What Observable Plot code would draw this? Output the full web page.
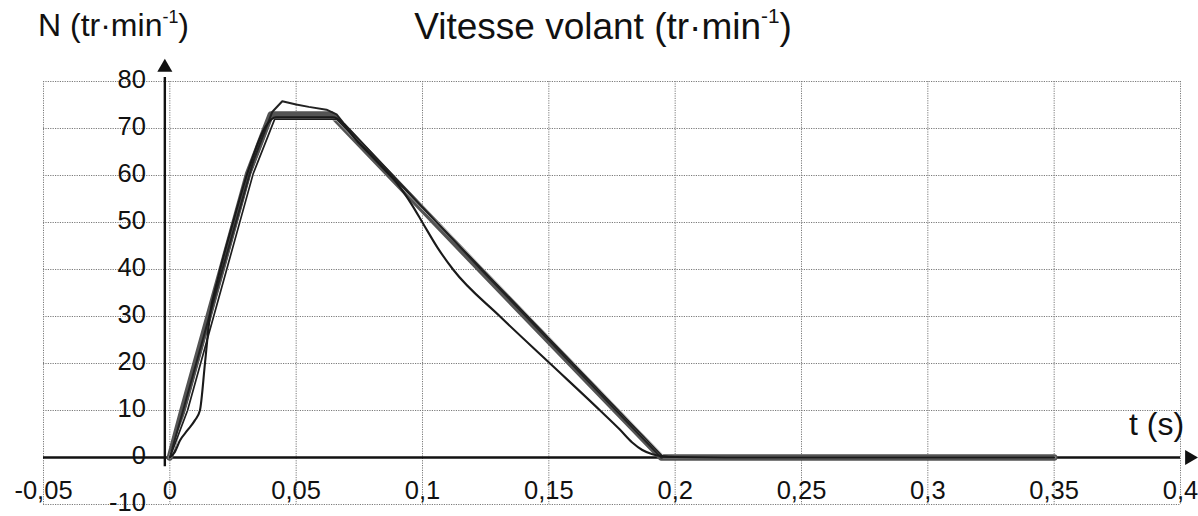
<!DOCTYPE html>
<html>
<head>
<meta charset="utf-8">
<script src="https://cdn.jsdelivr.net/npm/d3@7"></script>
<script src="https://cdn.jsdelivr.net/npm/@observablehq/plot@0.6"></script>
<style>
  html, body { margin: 0; padding: 0; background: #fff; }
  #wrap { position: relative; width: 1198px; height: 516px; font-family: "Liberation Sans", Arial, sans-serif; color: #111; }
  .lbl { position: absolute; white-space: nowrap; line-height: 1; }
  .lbl sup { font-size: 0.56em; vertical-align: 0.75em; line-height: 0; }
</style>
</head>
<body>
<div id="wrap">
  <div class="lbl" style="left:38px; top:9px; font-size:32px;">N (tr·min<sup>-1</sup>)</div>
  <div class="lbl" style="left:603px; top:8px; font-size:37px; transform:translateX(-50%);">Vitesse volant (tr·min<sup>-1</sup>)</div>
  <div class="lbl" style="left:1129px; top:408px; font-size:32px;">t (s)</div>
</div>
<script>
// Tick values
const xTicks = [-0.05, 0, 0.05, 0.1, 0.15, 0.2, 0.25, 0.3, 0.35, 0.4];
const yTicks = [-10, 0, 10, 20, 30, 40, 50, 60, 70, 80];

// Series: consigne (thick trapezoid)
const tConsigne = [0, 0.005, 0.0205, 0.031, 0.040, 0.064, 0.1228, 0.1945, 0.35];
const nConsigne = [0, 10, 40, 60.4, 73.0, 73.0, 40, 0, 0];

// Series: thin parallel trapezoid
const tParallel = [0, 0.007, 0.0225, 0.033, 0.0415, 0.066, 0.1238, 0.1955, 0.35];
const nParallel = [0, 10, 40, 60.4, 72.0, 72.0, 40, 0, 0];

// Series: with overshoot
const tOvershoot = [0, 0.005, 0.02, 0.033, 0.0405, 0.0445, 0.050, 0.055, 0.062, 0.066, 0.069, 0.09, 0.1232, 0.1945, 0.35];
const nOvershoot = [0, 9.5, 38.5, 63, 73.5, 75.8, 75.1, 74.6, 74.0, 73.0, 71.0, 59.0, 40, 0, 0];

// Series: measured (smooth)
const tMesure = [0, 0.002, 0.004, 0.007, 0.0099, 0.0119, 0.0139, 0.0158, 0.019, 0.025, 0.031, 0.038, 0.042, 0.0645, 0.075, 0.085, 0.09, 0.096, 0.1002, 0.106, 0.1121, 0.1307, 0.1505, 0.1703, 0.178, 0.183, 0.187, 0.191, 0.195, 0.2, 0.22, 0.35];
const nMesure = [0, 1.2, 3.6, 5.8, 7.9, 10, 20, 30, 38, 50, 61, 70.5, 72.4, 72.4, 66.8, 61.2, 58.3, 53.6, 49.8, 44.6, 40, 30, 20, 10, 6, 3.2, 1.6, 0.7, 0.3, 0.1, 0, 0];

const toRows = (name, ts, ns) => ts.map((t, i) => ({serie: name, t, n: ns[i]}));
const consigne = toRows("consigne", tConsigne, nConsigne);
const parallel = toRows("parallele", tParallel, nParallel);
const overshoot = toRows("depassement", tOvershoot, nOvershoot);
const mesure = toRows("mesure", tMesure, nMesure);

const fmt = d => String(d).replace(".", ",");
const grid = {stroke: "#7a7a7a", strokeWidth: 1, strokeDasharray: "1.2,1.2"};

const chart = Plot.plot({
  width: 1198,
  height: 516,
  marginLeft: 43,
  marginRight: 18,
  marginTop: 81,
  marginBottom: 12,
  x: {domain: [-0.05, 0.4], axis: null},
  y: {domain: [-10, 80], axis: null},
  style: {fontFamily: "'Liberation Sans', Arial, sans-serif", background: "transparent", overflow: "visible"},
  marks: [
    Plot.ruleX(xTicks, grid),
    Plot.ruleY(yTicks, grid),
    // axes
    Plot.ruleY([0], {x1: -0.05, x2: 0.4, stroke: "#111", strokeWidth: 2.4}),
    Plot.ruleX([0], {y1: -2.8, y2: 80, dx: -5, dy: -4, stroke: "#111", strokeWidth: 2.4}),
    Plot.dot([0.4], {x: d => d, y: 0, dx: 9, symbol: "triangle", r: 5.6, rotate: 90, fill: "#111", stroke: "none"}),
    Plot.dot([80], {x: 0, y: d => d, dx: -5, dy: -14, symbol: "triangle", r: 5.6, fill: "#111", stroke: "none"}),
    // series
    Plot.line(consigne, {x: "t", y: "n", stroke: "#545454", strokeWidth: 6.5, strokeLinejoin: "round"}),
    Plot.line(parallel, {x: "t", y: "n", stroke: "#fff", strokeWidth: 2.8, strokeOpacity: 0.8}),
    Plot.line(parallel, {x: "t", y: "n", stroke: "#1e1e1e", strokeWidth: 1.7}),
    Plot.line(overshoot, {x: "t", y: "n", stroke: "#222", strokeWidth: 2}),
    Plot.line(mesure, {x: "t", y: "n", stroke: "#1a1a1a", strokeWidth: 2.1, curve: "monotone-x"}),
    // tick labels
    Plot.text(yTicks, {x: 0, y: d => d, text: d => fmt(d), dx: -24, dy: -1.5, textAnchor: "end", fontSize: 25.5, fill: "#111"}),
    Plot.text(xTicks, {x: d => d, y: 0, text: d => fmt(d), dy: 33, fontSize: 25.5, fill: "#111"})
  ]
});
document.getElementById("wrap").prepend(chart);
chart.style.position = "absolute";
chart.style.left = "0";
chart.style.top = "0";
</script>
</body>
</html>
